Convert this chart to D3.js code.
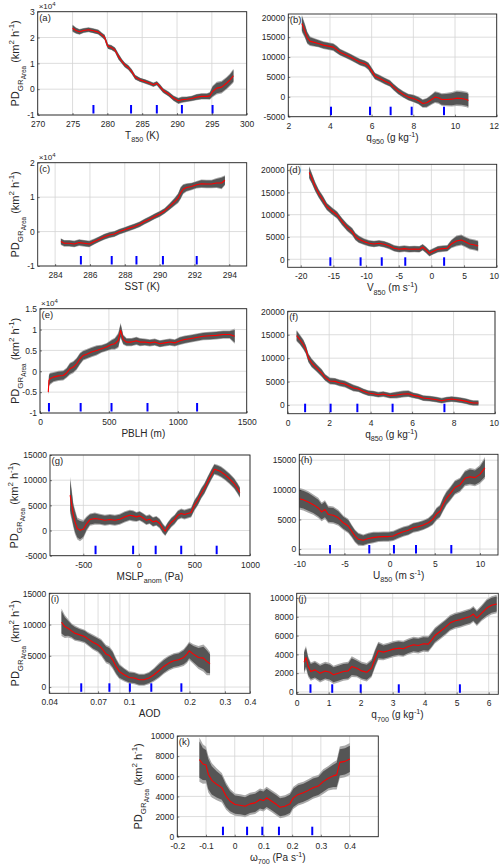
<!DOCTYPE html>
<html><head><meta charset="utf-8">
<script src="https://cdn.jsdelivr.net/npm/d3@7"></script>
<style>
body{margin:0;background:#fff}
svg text{font-family:"Liberation Sans",Arial,Helvetica,sans-serif;fill:#262626}
</style>
</head><body>
<svg id="chart" width="500" height="868"></svg>
<script>
// ---------------- DATA ----------------
// (a) T850 (K) ; values in units of 1e4 km2 h-1
const aX = [275.0,275.5,276.0,276.6,277.3,278.0,278.7,279.2,279.6,279.9,280.1,280.6,281.1,281.6,282.1,282.5,283.0,283.5,284.0,284.7,285.4,286.1,286.6,287.1,287.6,288.0,288.8,289.5,290.2,290.7,291.4,292.1,292.8,293.5,294.3,294.7,295.1,295.7,296.4,297.1,297.6,298.1];
const aMean = [2.36,2.27,2.22,2.27,2.30,2.26,2.21,2.10,2.01,1.78,1.65,1.61,1.52,1.26,1.07,0.94,0.84,0.68,0.46,0.36,0.30,0.23,0.17,0.23,0.08,-0.05,-0.19,-0.35,-0.45,-0.41,-0.39,-0.36,-0.31,-0.28,-0.28,-0.26,-0.09,0.04,0.08,0.23,0.36,0.52];
const aSpread = [0.12,0.10,0.09,0.08,0.08,0.08,0.08,0.08,0.09,0.10,0.08,0.08,0.08,0.10,0.08,0.08,0.08,0.08,0.08,0.07,0.07,0.07,0.07,0.07,0.08,0.08,0.08,0.09,0.10,0.10,0.09,0.09,0.10,0.10,0.10,0.12,0.18,0.20,0.20,0.20,0.20,0.22];
const aMarks = [278.0,283.4,287.1,290.7,295.1];
const aXTicks = [270,275,280,285,290,295,300];
const aYTicks = [-1,0,1,2,3];

// (b) q950 (g kg-1)
const bX = [2.65,2.8,2.91,3.04,3.2,3.44,3.68,3.92,4.16,4.32,4.48,4.72,4.96,5.2,5.44,5.68,5.84,6.0,6.16,6.4,6.64,6.88,7.04,7.28,7.52,7.76,8.0,8.24,8.45,8.64,8.88,9.04,9.2,9.36,9.6,9.84,10.08,10.32,10.56,10.64];
const bMean = [18450,16530,14850,14010,13760,13420,13000,12750,12500,11910,11240,10650,10070,9400,8720,8300,7720,6460,5200,4610,3940,3360,2520,1430,590,-80,-420,-920,-1680,-1510,-670,-80,-250,-670,-670,-590,-340,-420,-670,-920];
const bSpread = [1800,1500,1300,1000,900,800,800,800,800,800,700,700,700,700,700,700,800,800,700,700,700,700,700,700,700,700,800,800,900,1000,1100,1200,1200,1300,1400,1500,1600,1600,1600,1600];
const bMarks = [4.05,5.92,6.91,7.92,9.47];
const bXTicks = [2,4,6,8,10,12];
const bYTicks = [-5000,0,5000,10000,15000,20000];

// (c) SST (K) ; units of 1e4
const cX = [284.33,284.52,284.81,285.1,285.38,285.67,285.96,286.25,286.54,286.83,287.12,287.4,287.7,288.0,288.27,288.56,288.85,289.13,289.42,289.71,290.0,290.29,290.58,290.87,291.06,291.21,291.35,291.54,291.83,292.12,292.4,292.7,292.98,293.27,293.56,293.75];
const cMean = [-0.29,-0.34,-0.34,-0.36,-0.32,-0.34,-0.36,-0.29,-0.22,-0.15,-0.10,-0.07,0,0.05,0.10,0.15,0.21,0.29,0.36,0.44,0.51,0.60,0.73,0.87,0.97,1.12,1.23,1.28,1.31,1.36,1.39,1.38,1.38,1.41,1.41,1.49];
const cSpread = [0.08,0.08,0.08,0.08,0.08,0.08,0.08,0.07,0.07,0.07,0.07,0.07,0.07,0.07,0.07,0.07,0.07,0.07,0.07,0.07,0.07,0.07,0.08,0.10,0.12,0.15,0.12,0.10,0.09,0.09,0.10,0.10,0.10,0.12,0.15,0.12];
const cMarks = [285.48,287.25,288.67,290.19,292.13];
const cXTicks = [284,286,288,290,292,294];
const cYTicks = [-1,0,1,2];

// (d) V850 (m s-1)
const dX = [-18.71,-18.3,-17.79,-17.27,-16.6,-15.99,-15.22,-14.44,-13.67,-12.9,-12.13,-11.62,-11.1,-10.33,-9.56,-8.79,-8.01,-7.24,-6.47,-5.7,-4.93,-4.16,-3.38,-2.61,-1.84,-1.33,-0.81,-0.3,0.22,0.99,1.76,2.43,3.05,3.82,4.59,5.1,5.87,6.65,7.16];
const dMean = [19480,18130,16270,14780,13280,11790,10820,9930,8430,7160,6190,5070,4480,3960,3580,3430,3580,3360,2990,2460,2240,2390,2240,2310,2240,2690,2090,1340,1720,2240,2390,2460,3430,4100,4330,3960,3430,3210,2990];
const dSpread = [1200,1000,900,800,800,700,700,700,700,700,700,700,700,600,600,600,600,600,600,600,600,600,600,600,600,600,600,600,600,600,600,600,800,1000,1000,1000,1000,1000,1000];
const dMarks = [-15.47,-10.84,-7.6,-4.0,1.95];
const dXTicks = [-20,-15,-10,-5,0,5,10];
const dYTicks = [0,5000,10000,15000,20000];

// (e) PBLH (m) ; units of 1e4
const eX = [60,65,72,97,133,169,193,217,242,266,290,314,338,374,411,447,483,519,543,568,585,604,628,664,700,725,761,797,833,870,906,942,978,1015,1051,1087,1135,1184,1232,1280,1329,1377,1413];
const eMean = [-0.50,-0.22,-0.18,-0.14,-0.11,-0.10,-0.04,0.06,0.10,0.18,0.30,0.38,0.41,0.46,0.50,0.54,0.58,0.64,0.66,0.74,0.98,0.76,0.70,0.70,0.73,0.70,0.70,0.68,0.70,0.66,0.68,0.70,0.68,0.73,0.76,0.78,0.81,0.84,0.85,0.86,0.88,0.88,0.84];
const eSpread = [0.05,0.12,0.12,0.10,0.10,0.10,0.10,0.12,0.12,0.12,0.12,0.10,0.10,0.10,0.10,0.08,0.08,0.10,0.12,0.15,0.15,0.10,0.08,0.08,0.08,0.08,0.07,0.07,0.07,0.07,0.07,0.07,0.07,0.08,0.08,0.08,0.08,0.08,0.08,0.08,0.08,0.08,0.15];
const eMarks = [65,295,519,780,1140];
const eXTicks = [0,500,1000,1500];
const eYTicks = [-1,-0.5,0,0.5,1,1.5];

// (f) q850 (g kg-1)
const fX = [0.43,0.59,0.76,0.88,1.0,1.16,1.4,1.64,1.8,2.04,2.28,2.52,2.76,3.0,3.17,3.41,3.65,3.89,4.13,4.37,4.61,4.94,5.26,5.58,5.82,6.06,6.3,6.54,6.86,7.19,7.43,7.67,7.91,8.15,8.39,8.63,8.79,8.95,9.2];
const fMean = [14790,13940,12870,11800,10030,8960,7890,6830,5900,5120,5050,4690,4480,3980,3630,3410,2920,2560,2420,2200,2350,1990,2130,2350,2420,2060,1850,1490,1350,1140,920,1140,1280,1140,1000,780,570,430,430];
const fSpread = [1000,900,900,800,800,800,700,700,600,600,600,600,600,600,600,500,500,500,500,500,500,500,600,600,600,500,500,500,500,500,500,500,500,500,500,500,500,500,500];
const fMarks = [0.84,2.07,3.36,5.06,7.56];
const fXTicks = [0,2,4,6,8,10];
const fYTicks = [0,5000,10000,15000,20000];

// (g) MSLP anomaly (Pa)
const gX = [-619,-604,-590,-575,-554,-530,-500,-470,-440,-396,-351,-306,-261,-216,-172,-127,-82,-52,-22,7,37,67,97,127,157,187,216,237,261,291,321,351,381,410,440,470,500,530,560,590,619,649,679,709,739,769,814,858,888,909];
const gMean = [7020,5030,3050,1720,400,70,260,1390,2180,2380,2250,2050,2180,2050,2250,2710,3050,2910,2710,2910,2520,2050,2250,1720,1920,1390,400,-130,730,1590,2180,3050,3380,3180,3380,3580,5030,6020,7350,8340,9670,10990,12180,11980,11650,11190,10330,9330,8340,7550];
const gSpread = [3000,2500,2000,2000,1800,1800,1500,1200,1000,1000,900,900,900,900,900,900,900,900,800,800,800,800,800,800,800,800,800,800,800,800,800,800,800,800,800,800,900,900,900,900,900,900,900,900,900,900,900,900,900,900];
const gMarks = [-390,-52,151,381,700];
const gXTicks = [-500,0,500,1000];
const gYTicks = [-5000,0,5000,10000,15000];

// (h) U850 (m s-1)
const hX = [-10,-9.56,-9.0,-8.45,-7.9,-7.53,-7.16,-6.79,-6.24,-5.68,-5.13,-4.58,-4.21,-3.84,-3.47,-2.92,-2.36,-1.81,-1.25,-0.7,-0.15,0.41,0.96,1.51,2.07,2.62,3.17,3.73,4.28,4.76,5.2,5.57,5.94,6.31,6.68,7.23,7.79,8.34,8.89,9.45,10.0,10.55];
const hMean = [8500,8330,7950,7500,6940,6280,6670,5830,5720,5280,4440,3890,3060,2220,1670,1500,1780,1940,2060,2110,2110,2220,2610,2940,3170,3610,3780,4060,4440,5000,5940,6390,7610,8610,9280,10390,10830,11940,12220,12060,12610,13720];
const hSpread = [1500,1500,1500,1400,1400,1300,1300,1200,1200,1100,1000,1000,900,900,900,800,800,800,700,700,700,700,700,700,700,700,700,700,700,800,900,900,1000,1000,1000,1000,1000,1100,1200,1200,1300,1500];
const hMarks = [-6.6,-2.25,0.48,2.92,6.83];
const hXTicks = [-10,-5,0,5,10];
const hYTicks = [0,5000,10000,15000];

// (i) AOD (log axis)
const iX = [0.046,0.0478,0.0496,0.0516,0.0536,0.0567,0.060,0.0623,0.066,0.0698,0.0725,0.0767,0.0797,0.0828,0.086,0.0893,0.0945,0.1,0.106,0.112,0.1186,0.1255,0.133,0.1406,0.1488,0.1576,0.1667,0.1765,0.1868,0.194,0.199,0.209,0.2215,0.2344,0.2435,0.2529];
const iMean = [10370,9680,9410,8990,8620,8350,8090,7710,7180,6760,6330,5270,5050,4360,3300,2500,1970,1540,1440,1170,1170,1440,1970,2610,3300,3830,4200,4360,4730,5270,5800,5270,4730,4630,4100,3720];
const iSpread = [1800,1500,1200,1000,1000,900,900,900,1000,1000,1100,1200,1200,1200,1100,1000,900,800,800,800,800,800,900,1000,1000,1000,1000,1000,1100,1200,1200,1300,1500,1800,1800,1500];
const iMarks = [0.0577,0.0797,0.1008,0.1289,0.182];
const iXTicks = [0.04,0.07,0.1,0.2,0.3,0.4];
const iXGrid = [0.04,0.05,0.06,0.07,0.08,0.09,0.1,0.2,0.3,0.4];
const iYTicks = [0,5000,10000,15000];

// (j) q700 (g kg-1)
const jX = [0.23,0.29,0.36,0.44,0.57,0.73,0.89,1.04,1.15,1.3,1.46,1.61,1.72,1.88,2.03,2.19,2.34,2.45,2.55,2.71,2.86,3.02,3.18,3.33,3.49,3.65,3.8,3.96,4.11,4.22,4.32,4.48,4.64,4.79,4.95,5.1,5.26,5.42,5.52,5.63,5.78,5.94,6.09,6.25];
const jMean = [3170,3670,2700,2170,2350,1990,2240,2100,1820,1990,2170,2240,2700,2530,2240,2100,2530,3590,4380,4240,4380,4560,4660,4590,4840,5020,4950,5130,5090,5550,6010,6440,6870,7330,7580,7690,7870,8040,8290,7870,8400,8930,9220,9360];
const jSpread = [1000,1000,900,800,800,800,800,800,800,800,800,800,900,800,800,800,800,800,800,700,700,700,700,700,700,700,700,700,700,700,700,700,700,700,700,700,700,700,700,700,700,800,800,800];
const jMarks = [0.43,1.11,2.0,3.19,5.10];
const jXTicks = [0,1,2,3,4,5,6];
const jYTicks = [0,2000,4000,6000,8000,10000];

// (k) omega700 (Pa s-1)
const kX = [-0.123,-0.111,-0.1,-0.092,-0.08,-0.063,-0.045,-0.03,-0.016,0.001,0.019,0.036,0.053,0.071,0.088,0.1,0.111,0.129,0.146,0.158,0.175,0.192,0.204,0.221,0.239,0.256,0.273,0.291,0.308,0.326,0.343,0.355,0.366,0.384,0.401];
const kMean = [7650,7220,7110,6210,5600,5200,4870,4030,3520,3190,3120,3020,3260,3360,3690,3590,3860,3520,3190,2920,3020,3260,3860,4200,4360,4600,4870,5030,5470,5810,6040,6140,7380,7480,7720];
const kSpread = [1800,1600,1500,1500,1400,1300,1200,1100,1000,900,900,900,900,900,900,900,900,900,900,900,900,900,900,900,900,900,900,900,1000,1000,1100,1200,1300,1300,1300];
const kMarks = [-0.041,0.043,0.096,0.154,0.27];
const kXTicks = [-0.2,-0.1,0,0.1,0.2,0.3,0.4];
const kYTicks = [0,2000,4000,6000,8000,10000];

// ---------------- LAYOUT ----------------
const SUB = -1, SUBSUB = -2, SUP = 1;
const layout = [
  {id:'a', l:37.7, r:246.7, t:11.7, b:115,  xd:[270,300], yd:[-1,3], xs:aX, m:aMean, s:aSpread, mk:aMarks, xt:aXTicks, yt:aYTicks, mult:true, yl:19,
   xlab:[['T',0],['850',SUB],[' (K)',0]]},
  {id:'b', l:288.3, r:496.7, t:14, b:116.7, xd:[2,12], yd:[-5000,20830], xs:bX, m:bMean, s:bSpread, mk:bMarks, xt:bXTicks, yt:bYTicks,
   xlab:[['q',0],['950',SUB],[' (g kg',0],['-1',SUP],[')',0]]},
  {id:'c', l:37.7, r:246.7, t:162.7, b:266, xd:[283,295], yd:[-1,2], xs:cX, m:cMean, s:cSpread, mk:cMarks, xt:cXTicks, yt:cYTicks, mult:true, yl:19,
   xlab:[['SST (K)',0]]},
  {id:'d', l:287.7, r:496.7, t:164.3, b:267.3, xd:[-22,10], yd:[-1800,21300], xs:dX, m:dMean, s:dSpread, mk:dMarks, xt:dXTicks, yt:dYTicks,
   xlab:[['V',0],['850',SUB],[' (m s',0],['-1',SUP],[')',0]]},
  {id:'e', l:40, r:246.7, t:308.7, b:413, xd:[0,1500], yd:[-1,1.5], xs:eX, m:eMean, s:eSpread, mk:eMarks, xt:eXTicks, yt:eYTicks, mult:true, yl:19,
   xlab:[['PBLH (m)',0]]},
  {id:'f', l:287.7, r:495, t:311.3, b:413.7, xd:[0,10], yd:[-1850,20000], xs:fX, m:fMean, s:fSpread, mk:fMarks, xt:fXTicks, yt:fYTicks,
   xlab:[['q',0],['850',SUB],[' (g kg',0],['-1',SUP],[')',0]]},
  {id:'g', l:50, r:250, t:455, b:555.7, xd:[-800,1000], yd:[-5000,15000], xs:gX, m:gMean, s:gSpread, mk:gMarks, xt:gXTicks, yt:gYTicks, yl:18,
   xlab:[['MSLP',0],['anom',SUB],[' (Pa)',0]]},
  {id:'h', l:299.3, r:498, t:454.3, b:555, xd:[-10,12], yd:[-1000,16000], xs:hX, m:hMean, s:hSpread, mk:hMarks, xt:hXTicks, yt:hYTicks,
   xlab:[['U',0],['850',SUB],[' (m s',0],['-1',SUP],[')',0]]},
  {id:'i', l:49.3, r:250, t:593.3, b:693.3, xd:[0.04,0.4], yd:[-1000,15000], log:true, xs:iX, m:iMean, s:iSpread, mk:iMarks, xt:iXTicks, xg:iXGrid, yt:iYTicks, yl:19,
   xlab:[['AOD',0]]},
  {id:'j', l:296.7, r:498.3, t:593.3, b:694.3, xd:[0,6.3], yd:[-250,10500], xs:jX, m:jMean, s:jSpread, mk:jMarks, xt:jXTicks, yt:jYTicks,
   xlab:[['q',0],['700',SUB],[' (g kg',0],['-1',SUP],[')',0]]},
  {id:'k', l:177.3, r:378.3, t:736, b:836.7, xd:[-0.2,0.5], yd:[0,10000], xs:kX, m:kMean, s:kSpread, mk:kMarks, xt:kXTicks, yt:kYTicks, yl:142,
   xlab:[['\u03c9',0],['700',SUB],[' (Pa s',0],['-1',SUP],[')',0]]}
];

const yLabelParts = [['PD',0],['GR',SUB],['Area',SUBSUB],[' (km',0],['2',SUP],[' h',0],['-1',SUP],[')',0]];

const W = 500;
const svg = d3.select('#chart');

function rich(textSel, parts, size){
  let shift = 0;
  parts.forEach(([txt, lvl]) => {
    let target = 0, fs = size;
    if (lvl === SUB) { target = size*0.32; fs = size*0.72; }
    else if (lvl === SUBSUB) { target = size*0.6; fs = size*0.58; }
    else if (lvl === SUP) { target = -size*0.42; fs = size*0.72; }
    textSel.append('tspan').attr('dy', (target - shift).toFixed(2)).attr('font-size', fs).text(txt);
    shift = target;
  });
}

function fmt(v){ return String(v); }

function drawPanel(p){
  const x = (p.log ? d3.scaleLog() : d3.scaleLinear()).domain(p.xd).range([p.l, p.r]);
  const y = d3.scaleLinear().domain(p.yd).range([p.b, p.t]);
  const g = svg.append('g');
  const cid = 'clip-' + p.id;
  g.append('clipPath').attr('id', cid).append('rect')
    .attr('x', p.l).attr('y', p.t).attr('width', p.r - p.l).attr('height', p.b - p.t);

  // grid
  const gridX = p.xg || p.xt;
  g.append('g').selectAll('line').data(gridX).enter().append('line')
    .attr('x1', d => x(d)).attr('x2', d => x(d)).attr('y1', p.t).attr('y2', p.b)
    .attr('stroke', '#d4d4d4').attr('stroke-width', 0.8);
  g.append('g').selectAll('line').data(p.yt).enter().append('line')
    .attr('y1', d => y(d)).attr('y2', d => y(d)).attr('x1', p.l).attr('x2', p.r)
    .attr('stroke', '#d4d4d4').attr('stroke-width', 0.8);

  const pts = p.xs.map((v, i) => ({x: v, m: p.m[i], s: p.s[i] != null ? p.s[i] : p.s[p.s.length - 1]}));
  const plot = g.append('g').attr('clip-path', `url(#${cid})`);
  const outer = d3.area().x(d => x(d.x)).y0(d => y(d.m - d.s*1.22)).y1(d => y(d.m + d.s*1.22));
  const inner = d3.area().x(d => x(d.x)).y0(d => y(d.m - d.s)).y1(d => y(d.m + d.s));
  plot.append('path').datum(pts).attr('d', outer).attr('fill', '#a9a9a9');
  plot.append('path').datum(pts).attr('d', inner).attr('fill', '#555555');
  const line = d3.line().x(d => x(d.x)).y(d => y(d.m));
  plot.append('path').datum(pts).attr('d', line).attr('fill', 'none')
    .attr('stroke', '#ff0000').attr('stroke-width', 1.1).attr('stroke-linejoin', 'round');

  // blue marks (quantile positions)
  g.append('g').selectAll('line').data(p.mk).enter().append('line')
    .attr('x1', d => x(d)).attr('x2', d => x(d)).attr('y1', p.b - 1.5).attr('y2', p.b - 10)
    .attr('stroke', '#0000ff').attr('stroke-width', 2);

  // axes
  const ax = g.append('g').attr('transform', `translate(0,${p.b})`)
    .call(d3.axisBottom(x).tickValues(p.xt).tickSize(-2).tickPadding(6).tickFormat(fmt));
  const ay = g.append('g').attr('transform', `translate(${p.l},0)`)
    .call(d3.axisLeft(y).tickValues(p.yt).tickSize(-2).tickPadding(3).tickFormat(fmt));
  [ax, ay].forEach(a => {
    a.select('.domain').remove();
    a.attr('font-family', null).attr('font-size', null);
    a.selectAll('line').attr('stroke', '#262626').attr('stroke-width', 0.6);
    a.selectAll('text').attr('font-size', 8.5).attr('fill', '#262626');
  });
  // keep right-edge tick labels inside the page
  ax.selectAll('.tick').each(function(d){
    const t = d3.select(this).select('text');
    const w = t.node().getComputedTextLength();
    const over = x(d) + w/2 - (W - 1.5);
    if (over > 0) t.attr('dx', -over);
  });

  // frame
  g.append('rect').attr('x', p.l).attr('y', p.t).attr('width', p.r - p.l).attr('height', p.b - p.t)
    .attr('fill', 'none').attr('stroke', '#262626').attr('stroke-width', 0.9);

  // panel letter
  g.append('text').attr('x', p.l + 1.5).attr('y', p.t + 9).attr('font-size', 9.5).text(`(${p.id})`);

  // multiplier
  if (p.mult) {
    const t = g.append('text').attr('x', p.l + 1).attr('y', p.t - 2.5).attr('font-size', 8);
    t.append('tspan').text('\u00d710');
    t.append('tspan').attr('dy', -3).attr('font-size', 6).text('4');
  }

  // x label
  const xl = g.append('text').attr('x', (p.l + p.r)/2).attr('y', p.b + 24).attr('text-anchor', 'middle').attr('font-size', 10);
  rich(xl, p.xlab, 10);

  // y label
  if (p.yl != null) {
    const yt = g.append('text').attr('transform', `translate(${p.yl},${(p.t + p.b)/2}) rotate(-90)`)
      .attr('text-anchor', 'middle').attr('font-size', 11);
    rich(yt, yLabelParts, 11);
  }
}

layout.forEach(drawPanel);
</script>
</body></html>
